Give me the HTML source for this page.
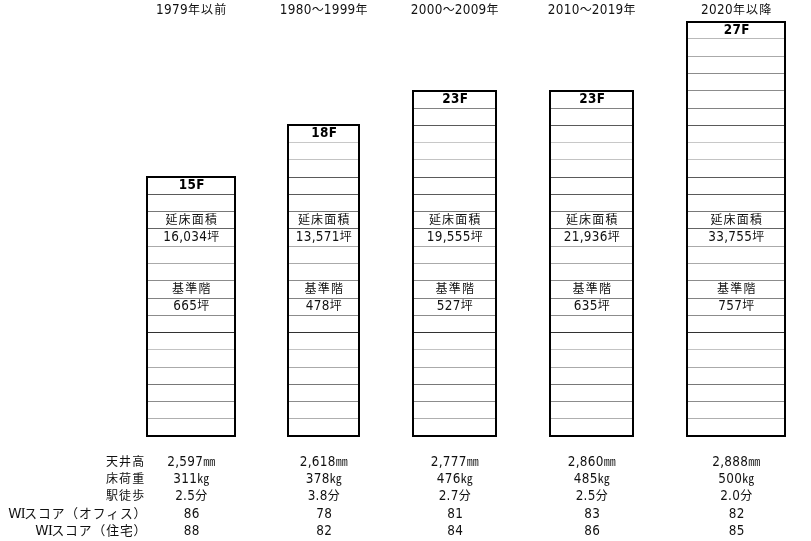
<!DOCTYPE html>
<html><head><meta charset="utf-8"><style>
html,body{margin:0;padding:0;background:#fff;}
body{width:811px;height:541px;overflow:hidden;}
svg{display:block;}
text{font-family:"DejaVu Sans Condensed","DejaVu Sans","Liberation Sans","Noto Sans CJK JP",sans-serif;fill:#111;}
.l{font-family:"DejaVu Sans Condensed","DejaVu Sans","Liberation Sans","Noto Sans CJK JP",sans-serif;font-size:13.40px;font-stretch:condensed;letter-spacing:0.3px;}
.c{font-family:"Liberation Sans","Noto Sans CJK JP",sans-serif;font-size:12.00px;letter-spacing:1.2px;}
.w{font-family:"DejaVu Sans","Liberation Sans",sans-serif;font-size:13.4px;letter-spacing:-0.6px;}
.i{font-family:"Liberation Serif",serif;font-size:14.5px;letter-spacing:-1.4px;}
.wi .c{letter-spacing:0.9px;font-size:12.8px;}
.t{letter-spacing:0;}
.b{font-weight:bold;fill:#000;letter-spacing:0.5px;}
</style></head><body>
<svg width="811" height="541" viewBox="0 0 811 541">

<rect x="148" y="418" width="86" height="1" fill="rgb(175,175,175)"/>
<rect x="148" y="401" width="86" height="1" fill="rgb(140,140,140)"/>
<rect x="148" y="384" width="86" height="1" fill="rgb(120,120,120)"/>
<rect x="148" y="367" width="86" height="1" fill="rgb(170,170,170)"/>
<rect x="148" y="349" width="86" height="1" fill="rgb(195,195,195)"/>
<rect x="148" y="332" width="86" height="1" fill="rgb(50,50,50)"/>
<rect x="148" y="315" width="86" height="1" fill="rgb(140,140,140)"/>
<rect x="148" y="298" width="86" height="1" fill="rgb(130,130,130)"/>
<rect x="148" y="280" width="86" height="1" fill="rgb(140,140,140)"/>
<rect x="148" y="263" width="86" height="1" fill="rgb(170,170,170)"/>
<rect x="148" y="246" width="86" height="1" fill="rgb(170,170,170)"/>
<rect x="148" y="228" width="86" height="1" fill="rgb(100,100,100)"/>
<rect x="148" y="211" width="86" height="1" fill="rgb(120,120,120)"/>
<rect x="148" y="194" width="86" height="1" fill="rgb(90,90,90)"/>
<rect x="146" y="176" width="90" height="2" fill="#000"/>
<rect x="146" y="435" width="90" height="2" fill="#000"/>
<rect x="146" y="176" width="2" height="261" fill="#000"/>
<rect x="234" y="176" width="2" height="261" fill="#000"/>
<text x="191.8" y="14.0" text-anchor="middle"><tspan class="l">1979</tspan><tspan class="c" dy="0.40">年以前</tspan></text>
<text class="b" x="191.8" y="189.23" text-anchor="middle"><tspan class="l">15F</tspan></text>
<text x="191.8" y="223.75" text-anchor="middle"><tspan class="c" dy="0.40">延床面積</tspan></text>
<text x="191.8" y="241.01" text-anchor="middle"><tspan class="l">16,034</tspan><tspan class="c" dy="0.40">坪</tspan></text>
<text x="191.8" y="292.79" text-anchor="middle"><tspan class="c" dy="0.40">基準階</tspan></text>
<text x="191.8" y="310.05" text-anchor="middle"><tspan class="l">665</tspan><tspan class="c" dy="0.40">坪</tspan></text>
<rect x="289" y="418" width="69" height="1" fill="rgb(175,175,175)"/>
<rect x="289" y="401" width="69" height="1" fill="rgb(140,140,140)"/>
<rect x="289" y="384" width="69" height="1" fill="rgb(120,120,120)"/>
<rect x="289" y="367" width="69" height="1" fill="rgb(170,170,170)"/>
<rect x="289" y="349" width="69" height="1" fill="rgb(195,195,195)"/>
<rect x="289" y="332" width="69" height="1" fill="rgb(50,50,50)"/>
<rect x="289" y="315" width="69" height="1" fill="rgb(140,140,140)"/>
<rect x="289" y="298" width="69" height="1" fill="rgb(130,130,130)"/>
<rect x="289" y="280" width="69" height="1" fill="rgb(140,140,140)"/>
<rect x="289" y="263" width="69" height="1" fill="rgb(170,170,170)"/>
<rect x="289" y="246" width="69" height="1" fill="rgb(170,170,170)"/>
<rect x="289" y="228" width="69" height="1" fill="rgb(100,100,100)"/>
<rect x="289" y="211" width="69" height="1" fill="rgb(120,120,120)"/>
<rect x="289" y="194" width="69" height="1" fill="rgb(90,90,90)"/>
<rect x="289" y="177" width="69" height="1" fill="rgb(90,90,90)"/>
<rect x="289" y="159" width="69" height="1" fill="rgb(195,195,195)"/>
<rect x="289" y="142" width="69" height="1" fill="rgb(200,200,200)"/>
<rect x="287" y="124" width="73" height="2" fill="#000"/>
<rect x="287" y="435" width="73" height="2" fill="#000"/>
<rect x="287" y="124" width="2" height="313" fill="#000"/>
<rect x="358" y="124" width="2" height="313" fill="#000"/>
<text x="324.3" y="14.0" text-anchor="middle"><tspan class="l">1980</tspan><tspan class="c t" dy="0.40">～</tspan><tspan class="l" dy="-0.40">1999</tspan><tspan class="c" dy="0.40">年</tspan></text>
<text class="b" x="324.3" y="137.45" text-anchor="middle"><tspan class="l">18F</tspan></text>
<text x="324.3" y="223.75" text-anchor="middle"><tspan class="c" dy="0.40">延床面積</tspan></text>
<text x="324.3" y="241.01" text-anchor="middle"><tspan class="l">13,571</tspan><tspan class="c" dy="0.40">坪</tspan></text>
<text x="324.3" y="292.79" text-anchor="middle"><tspan class="c" dy="0.40">基準階</tspan></text>
<text x="324.3" y="310.05" text-anchor="middle"><tspan class="l">478</tspan><tspan class="c" dy="0.40">坪</tspan></text>
<rect x="414" y="418" width="81" height="1" fill="rgb(175,175,175)"/>
<rect x="414" y="401" width="81" height="1" fill="rgb(140,140,140)"/>
<rect x="414" y="384" width="81" height="1" fill="rgb(120,120,120)"/>
<rect x="414" y="367" width="81" height="1" fill="rgb(170,170,170)"/>
<rect x="414" y="349" width="81" height="1" fill="rgb(195,195,195)"/>
<rect x="414" y="332" width="81" height="1" fill="rgb(50,50,50)"/>
<rect x="414" y="315" width="81" height="1" fill="rgb(140,140,140)"/>
<rect x="414" y="298" width="81" height="1" fill="rgb(130,130,130)"/>
<rect x="414" y="280" width="81" height="1" fill="rgb(140,140,140)"/>
<rect x="414" y="263" width="81" height="1" fill="rgb(170,170,170)"/>
<rect x="414" y="246" width="81" height="1" fill="rgb(170,170,170)"/>
<rect x="414" y="228" width="81" height="1" fill="rgb(100,100,100)"/>
<rect x="414" y="211" width="81" height="1" fill="rgb(120,120,120)"/>
<rect x="414" y="194" width="81" height="1" fill="rgb(90,90,90)"/>
<rect x="414" y="177" width="81" height="1" fill="rgb(90,90,90)"/>
<rect x="414" y="159" width="81" height="1" fill="rgb(195,195,195)"/>
<rect x="414" y="142" width="81" height="1" fill="rgb(200,200,200)"/>
<rect x="414" y="125" width="81" height="1" fill="rgb(90,90,90)"/>
<rect x="414" y="108" width="81" height="1" fill="rgb(130,130,130)"/>
<rect x="412" y="90" width="85" height="2" fill="#000"/>
<rect x="412" y="435" width="85" height="2" fill="#000"/>
<rect x="412" y="90" width="2" height="347" fill="#000"/>
<rect x="495" y="90" width="2" height="347" fill="#000"/>
<text x="455.3" y="14.0" text-anchor="middle"><tspan class="l">2000</tspan><tspan class="c t" dy="0.40">～</tspan><tspan class="l" dy="-0.40">2009</tspan><tspan class="c" dy="0.40">年</tspan></text>
<text class="b" x="455.3" y="102.93" text-anchor="middle"><tspan class="l">23F</tspan></text>
<text x="455.3" y="223.75" text-anchor="middle"><tspan class="c" dy="0.40">延床面積</tspan></text>
<text x="455.3" y="241.01" text-anchor="middle"><tspan class="l">19,555</tspan><tspan class="c" dy="0.40">坪</tspan></text>
<text x="455.3" y="292.79" text-anchor="middle"><tspan class="c" dy="0.40">基準階</tspan></text>
<text x="455.3" y="310.05" text-anchor="middle"><tspan class="l">527</tspan><tspan class="c" dy="0.40">坪</tspan></text>
<rect x="551" y="418" width="81" height="1" fill="rgb(175,175,175)"/>
<rect x="551" y="401" width="81" height="1" fill="rgb(140,140,140)"/>
<rect x="551" y="384" width="81" height="1" fill="rgb(120,120,120)"/>
<rect x="551" y="367" width="81" height="1" fill="rgb(170,170,170)"/>
<rect x="551" y="349" width="81" height="1" fill="rgb(195,195,195)"/>
<rect x="551" y="332" width="81" height="1" fill="rgb(50,50,50)"/>
<rect x="551" y="315" width="81" height="1" fill="rgb(140,140,140)"/>
<rect x="551" y="298" width="81" height="1" fill="rgb(130,130,130)"/>
<rect x="551" y="280" width="81" height="1" fill="rgb(140,140,140)"/>
<rect x="551" y="263" width="81" height="1" fill="rgb(170,170,170)"/>
<rect x="551" y="246" width="81" height="1" fill="rgb(170,170,170)"/>
<rect x="551" y="228" width="81" height="1" fill="rgb(100,100,100)"/>
<rect x="551" y="211" width="81" height="1" fill="rgb(120,120,120)"/>
<rect x="551" y="194" width="81" height="1" fill="rgb(90,90,90)"/>
<rect x="551" y="177" width="81" height="1" fill="rgb(90,90,90)"/>
<rect x="551" y="159" width="81" height="1" fill="rgb(195,195,195)"/>
<rect x="551" y="142" width="81" height="1" fill="rgb(200,200,200)"/>
<rect x="551" y="125" width="81" height="1" fill="rgb(90,90,90)"/>
<rect x="551" y="108" width="81" height="1" fill="rgb(130,130,130)"/>
<rect x="549" y="90" width="85" height="2" fill="#000"/>
<rect x="549" y="435" width="85" height="2" fill="#000"/>
<rect x="549" y="90" width="2" height="347" fill="#000"/>
<rect x="632" y="90" width="2" height="347" fill="#000"/>
<text x="592.3" y="14.0" text-anchor="middle"><tspan class="l">2010</tspan><tspan class="c t" dy="0.40">～</tspan><tspan class="l" dy="-0.40">2019</tspan><tspan class="c" dy="0.40">年</tspan></text>
<text class="b" x="592.3" y="102.93" text-anchor="middle"><tspan class="l">23F</tspan></text>
<text x="592.3" y="223.75" text-anchor="middle"><tspan class="c" dy="0.40">延床面積</tspan></text>
<text x="592.3" y="241.01" text-anchor="middle"><tspan class="l">21,936</tspan><tspan class="c" dy="0.40">坪</tspan></text>
<text x="592.3" y="292.79" text-anchor="middle"><tspan class="c" dy="0.40">基準階</tspan></text>
<text x="592.3" y="310.05" text-anchor="middle"><tspan class="l">635</tspan><tspan class="c" dy="0.40">坪</tspan></text>
<rect x="688" y="418" width="96" height="1" fill="rgb(175,175,175)"/>
<rect x="688" y="401" width="96" height="1" fill="rgb(140,140,140)"/>
<rect x="688" y="384" width="96" height="1" fill="rgb(120,120,120)"/>
<rect x="688" y="367" width="96" height="1" fill="rgb(170,170,170)"/>
<rect x="688" y="349" width="96" height="1" fill="rgb(195,195,195)"/>
<rect x="688" y="332" width="96" height="1" fill="rgb(50,50,50)"/>
<rect x="688" y="315" width="96" height="1" fill="rgb(140,140,140)"/>
<rect x="688" y="298" width="96" height="1" fill="rgb(130,130,130)"/>
<rect x="688" y="280" width="96" height="1" fill="rgb(140,140,140)"/>
<rect x="688" y="263" width="96" height="1" fill="rgb(170,170,170)"/>
<rect x="688" y="246" width="96" height="1" fill="rgb(170,170,170)"/>
<rect x="688" y="228" width="96" height="1" fill="rgb(100,100,100)"/>
<rect x="688" y="211" width="96" height="1" fill="rgb(120,120,120)"/>
<rect x="688" y="194" width="96" height="1" fill="rgb(90,90,90)"/>
<rect x="688" y="177" width="96" height="1" fill="rgb(90,90,90)"/>
<rect x="688" y="159" width="96" height="1" fill="rgb(195,195,195)"/>
<rect x="688" y="142" width="96" height="1" fill="rgb(200,200,200)"/>
<rect x="688" y="125" width="96" height="1" fill="rgb(90,90,90)"/>
<rect x="688" y="108" width="96" height="1" fill="rgb(130,130,130)"/>
<rect x="688" y="90" width="96" height="1" fill="rgb(140,140,140)"/>
<rect x="688" y="73" width="96" height="1" fill="rgb(140,140,140)"/>
<rect x="688" y="56" width="96" height="1" fill="rgb(170,170,170)"/>
<rect x="688" y="38" width="96" height="1" fill="rgb(185,185,185)"/>
<rect x="686" y="21" width="100" height="2" fill="#000"/>
<rect x="686" y="435" width="100" height="2" fill="#000"/>
<rect x="686" y="21" width="2" height="416" fill="#000"/>
<rect x="784" y="21" width="2" height="416" fill="#000"/>
<text x="736.8" y="14.0" text-anchor="middle"><tspan class="l">2020</tspan><tspan class="c" dy="0.40">年以降</tspan></text>
<text class="b" x="736.8" y="33.89" text-anchor="middle"><tspan class="l">27F</tspan></text>
<text x="736.8" y="223.75" text-anchor="middle"><tspan class="c" dy="0.40">延床面積</tspan></text>
<text x="736.8" y="241.01" text-anchor="middle"><tspan class="l">33,755</tspan><tspan class="c" dy="0.40">坪</tspan></text>
<text x="736.8" y="292.79" text-anchor="middle"><tspan class="c" dy="0.40">基準階</tspan></text>
<text x="736.8" y="310.05" text-anchor="middle"><tspan class="l">757</tspan><tspan class="c" dy="0.40">坪</tspan></text>
<text x="191.8" y="466.00" text-anchor="middle"><tspan class="l">2,597</tspan><tspan class="c" dy="0.40">㎜</tspan></text>
<text x="191.8" y="483.00" text-anchor="middle"><tspan class="l">311</tspan><tspan class="c" dy="0.40">㎏</tspan></text>
<text x="191.8" y="500.00" text-anchor="middle"><tspan class="l">2.5</tspan><tspan class="c" dy="0.40">分</tspan></text>
<text x="191.8" y="517.60" text-anchor="middle"><tspan class="l">86</tspan></text>
<text x="191.8" y="535.00" text-anchor="middle"><tspan class="l">88</tspan></text>
<text x="324.3" y="466.00" text-anchor="middle"><tspan class="l">2,618</tspan><tspan class="c" dy="0.40">㎜</tspan></text>
<text x="324.3" y="483.00" text-anchor="middle"><tspan class="l">378</tspan><tspan class="c" dy="0.40">㎏</tspan></text>
<text x="324.3" y="500.00" text-anchor="middle"><tspan class="l">3.8</tspan><tspan class="c" dy="0.40">分</tspan></text>
<text x="324.3" y="517.60" text-anchor="middle"><tspan class="l">78</tspan></text>
<text x="324.3" y="535.00" text-anchor="middle"><tspan class="l">82</tspan></text>
<text x="455.3" y="466.00" text-anchor="middle"><tspan class="l">2,777</tspan><tspan class="c" dy="0.40">㎜</tspan></text>
<text x="455.3" y="483.00" text-anchor="middle"><tspan class="l">476</tspan><tspan class="c" dy="0.40">㎏</tspan></text>
<text x="455.3" y="500.00" text-anchor="middle"><tspan class="l">2.7</tspan><tspan class="c" dy="0.40">分</tspan></text>
<text x="455.3" y="517.60" text-anchor="middle"><tspan class="l">81</tspan></text>
<text x="455.3" y="535.00" text-anchor="middle"><tspan class="l">84</tspan></text>
<text x="592.3" y="466.00" text-anchor="middle"><tspan class="l">2,860</tspan><tspan class="c" dy="0.40">㎜</tspan></text>
<text x="592.3" y="483.00" text-anchor="middle"><tspan class="l">485</tspan><tspan class="c" dy="0.40">㎏</tspan></text>
<text x="592.3" y="500.00" text-anchor="middle"><tspan class="l">2.5</tspan><tspan class="c" dy="0.40">分</tspan></text>
<text x="592.3" y="517.60" text-anchor="middle"><tspan class="l">83</tspan></text>
<text x="592.3" y="535.00" text-anchor="middle"><tspan class="l">86</tspan></text>
<text x="736.8" y="466.00" text-anchor="middle"><tspan class="l">2,888</tspan><tspan class="c" dy="0.40">㎜</tspan></text>
<text x="736.8" y="483.00" text-anchor="middle"><tspan class="l">500</tspan><tspan class="c" dy="0.40">㎏</tspan></text>
<text x="736.8" y="500.00" text-anchor="middle"><tspan class="l">2.0</tspan><tspan class="c" dy="0.40">分</tspan></text>
<text x="736.8" y="517.60" text-anchor="middle"><tspan class="l">82</tspan></text>
<text x="736.8" y="535.00" text-anchor="middle"><tspan class="l">85</tspan></text>
<text x="145.5" y="466.00" text-anchor="end"><tspan class="c" dy="0.40">天井高</tspan></text>
<text x="145.5" y="483.00" text-anchor="end"><tspan class="c" dy="0.40">床荷重</tspan></text>
<text x="145.5" y="500.00" text-anchor="end"><tspan class="c" dy="0.40">駅徒歩</tspan></text>
<text class="wi" x="147.3" y="517.60" text-anchor="end"><tspan class="w">W</tspan><tspan class="i">I</tspan><tspan class="c" dy="0.40">スコア（オフィス）</tspan></text>
<text class="wi" x="147.3" y="535.00" text-anchor="end"><tspan class="w">W</tspan><tspan class="i">I</tspan><tspan class="c" dy="0.40">スコア（住宅）</tspan></text>
</svg></body></html>
